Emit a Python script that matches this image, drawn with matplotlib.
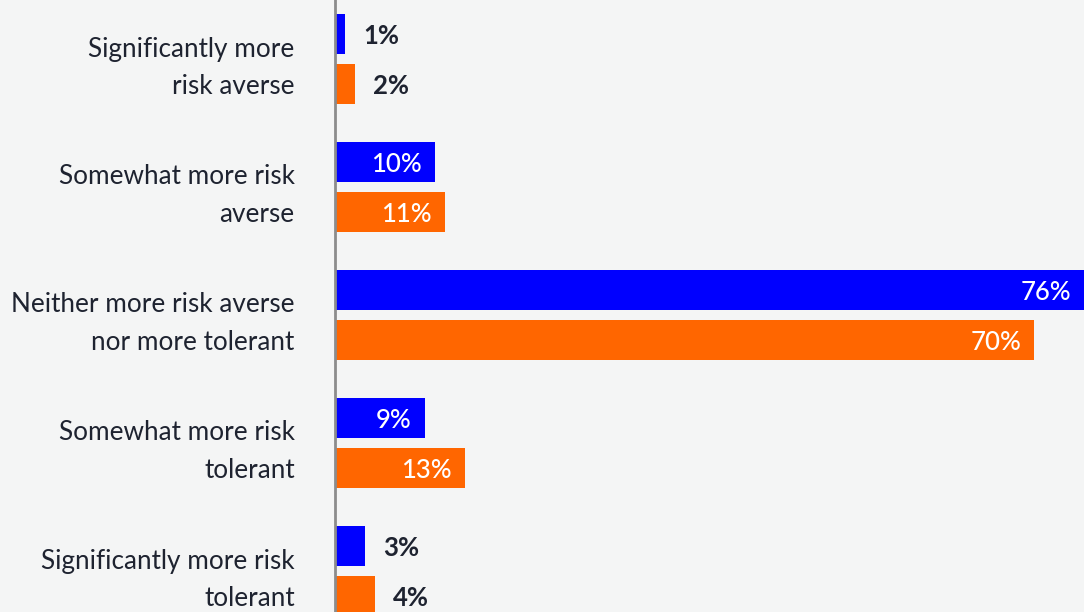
import matplotlib
matplotlib.use("Agg")
import matplotlib.pyplot as plt
import numpy as np

categories = [
    "Significantly more\nrisk averse",
    "Somewhat more risk\naverse",
    "Neither more risk averse\nnor more tolerant",
    "Somewhat more risk\ntolerant",
    "Significantly more risk\ntolerant",
]
series_blue = [1, 10, 76, 9, 3]
series_orange = [2, 11, 70, 13, 4]

BLUE = "#0000FF"
ORANGE = "#FF6600"
BG = "#F4F5F5"
TEXT = "#1E2330"

plt.rcParams["font.family"] = ["Lato", "DejaVu Sans"]

fig = plt.figure(figsize=(10.84, 6.12), dpi=100, facecolor=BG)
ax = fig.add_axes([335 / 1084, 0, 749 / 1084, 1])
ax.set_facecolor(BG)

y = np.arange(len(categories))
h = 40 / 128
off = 25 / 128

bars_b = ax.barh(y - off, series_blue, height=h, color=BLUE)
bars_o = ax.barh(y + off, series_orange, height=h, color=ORANGE)

ax.set_xlim(0, 75)
ax.set_ylim(4 + 41 / 128, -59 / 128)

px = 75 / 749  # data units per pixel horizontally


def annotate(bars, values):
    for bar, v in zip(bars, values):
        yc = bar.get_y() + bar.get_height() / 2 + 2 / 128
        if v >= 9:
            x_end = min(v, 75)
            ax.text(x_end - 13 * px, yc, f"{v}%", ha="right", va="center",
                    color="white", fontsize=18.5, fontweight="medium")
        else:
            ax.text(v + 18 * px, yc, f"{v}%", ha="left", va="center",
                    color=TEXT, fontsize=18.5, fontweight="bold")


annotate(bars_b, series_blue)
annotate(bars_o, series_orange)

ax.set_yticks(y)
ax.set_yticklabels(categories, fontsize=18.8, color=TEXT, linespacing=1.6,
                   multialignment="right")
ax.tick_params(axis="y", length=0, pad=29)
ax.set_xticks([])

for s in ["top", "right", "bottom"]:
    ax.spines[s].set_visible(False)
ax.spines["left"].set_color("#8C8C8C")
ax.spines["left"].set_linewidth(2)

fig.savefig("out.png", dpi=100, facecolor=BG)
